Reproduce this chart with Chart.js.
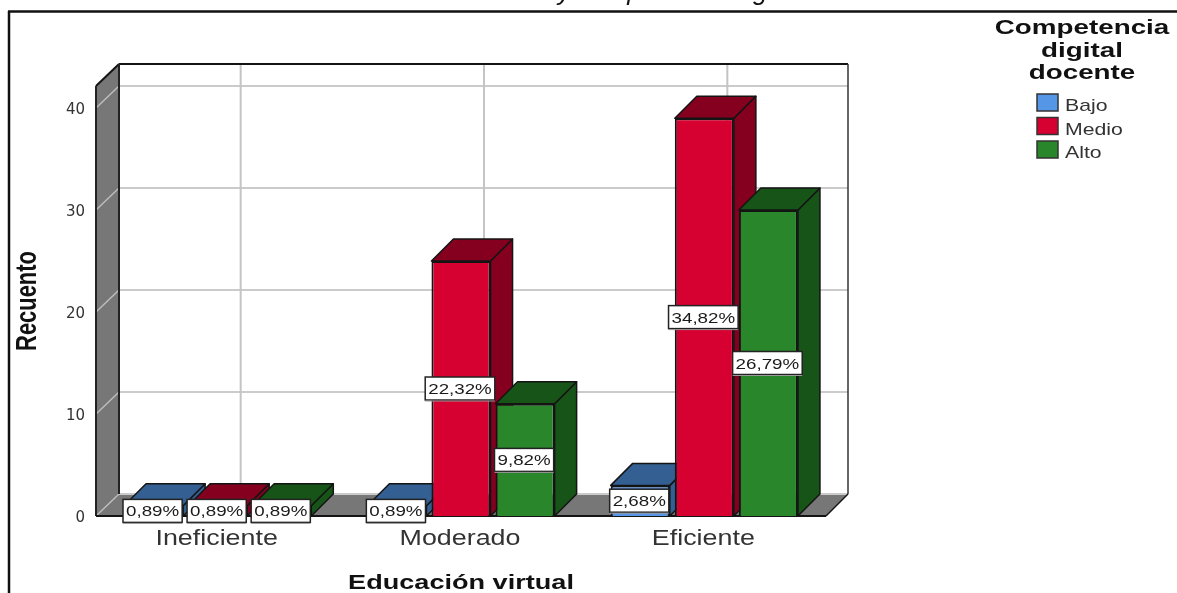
<!DOCTYPE html>
<html>
<head>
<meta charset="utf-8">
<title>Educación virtual</title>
<style>
  html, body { margin: 0; padding: 0; background: #fff; }
  #wrap { width: 1177px; height: 593px; overflow: hidden; }
</style>
<script src="https://cdn.jsdelivr.net/npm/chart.js@4/dist/chart.umd.js"></script>
</head>
<body>
<div id="wrap"><canvas id="grafico" width="1177" height="593"></canvas></div>
<script>
const categorias = ["Ineficiente", "Moderado", "Eficiente"];
const niveles = ["Bajo", "Medio", "Alto"];
const bajo = [1, 1, 3];
const medio = [1, 25, 39];
const alto = [1, 11, 30];
const totalCasos = 112;
const titulo = "Educación virtual y competencia digital docente";
const tituloLeyenda = ["Competencia", "digital", "docente"];

const coloresFrente = ["#5596e6", "#d60031", "#2a862a"];
const coloresOscuros = ["#345f92", "#85001f", "#175417"];
const linea = "#141414";
const fondo3d = 22; // profundidad del efecto 3D en px

// texto estirado en horizontal, con ancla en el centro
function textoAncho(ctx, txt, x, y, fuente, escala, color) {
  ctx.save();
  ctx.font = fuente;
  ctx.fillStyle = color || "#1a1a1a";
  ctx.textAlign = "center";
  ctx.textBaseline = "alphabetic";
  ctx.translate(x, y);
  ctx.scale(escala, 1);
  ctx.fillText(txt, 0, 0);
  ctx.restore();
}

function poligono(ctx, puntos, relleno, borde, grosor) {
  ctx.beginPath();
  puntos.forEach((p, i) => i ? ctx.lineTo(p[0], p[1]) : ctx.moveTo(p[0], p[1]));
  ctx.closePath();
  if (relleno) { ctx.fillStyle = relleno; ctx.fill(); }
  if (borde) { ctx.strokeStyle = borde; ctx.lineWidth = grosor || 1.5; ctx.stroke(); }
}

function segmento(ctx, x1, y1, x2, y2, color, grosor) {
  ctx.beginPath();
  ctx.moveTo(x1, y1);
  ctx.lineTo(x2, y2);
  ctx.strokeStyle = color;
  ctx.lineWidth = grosor;
  ctx.stroke();
}

// caja del gráfico: paredes, suelo y rejilla
const cajaPlugin = {
  id: "caja",
  beforeDatasetsDraw(chart) {
    const { ctx, chartArea: a, scales } = chart;
    const d = fondo3d;
    const fondoIzq = a.left + d + 1;
    ctx.save();
    poligono(ctx, [[fondoIzq, a.top - d], [a.right + d, a.top - d], [a.right + d, a.bottom - d], [fondoIzq, a.bottom - d]], "#fff");
    poligono(ctx, [[a.left, a.top], [fondoIzq, a.top - d], [fondoIzq, a.bottom - d], [a.left, a.bottom]], "#777");
    poligono(ctx, [[a.left, a.bottom], [fondoIzq, a.bottom - d], [a.right + d, a.bottom - d], [a.right, a.bottom]], "#777");

    scales.y.ticks.forEach(t => {
      const y = scales.y.getPixelForValue(t.value);
      segmento(ctx, a.left, y, fondoIzq, y - d, "#bdbdbd", 1.5);
      segmento(ctx, fondoIzq, y - d, a.right + d, y - d, "#cbcbcb", 2);
    });
    categorias.forEach((c, i) => {
      const x = scales.x.getPixelForTick(i) + d + 1;
      segmento(ctx, x, a.top - d, x, a.bottom - d, "#c4c4c4", 2);
    });

    segmento(ctx, a.left, a.top, fondoIzq, a.top - d, linea, 2);
    segmento(ctx, fondoIzq, a.top - d, a.right + d, a.top - d, linea, 2);
    segmento(ctx, a.right + d, a.top - d, a.right + d, a.bottom - d, "#333", 1.5);
    segmento(ctx, a.right + d, a.bottom - d, a.right, a.bottom, linea, 1.5);
    segmento(ctx, a.left, a.top, a.left, a.bottom, "#222", 2);
    segmento(ctx, fondoIzq, a.top - d, fondoIzq, a.bottom - d, "#222", 2);
    segmento(ctx, a.left, a.bottom, a.right, a.bottom, linea, 2);

    // barras de izquierda a derecha: lateral, tapa y cara frontal
    ctx.lineJoin = "round";
    chart.data.datasets.forEach((ds, i) => {
      const oscuro = coloresOscuros[i];
      chart.getDatasetMeta(i).data.forEach(b => {
        const x0 = b.x - b.width / 2;
        const x1 = b.x + b.width / 2;
        poligono(ctx, [[x1, b.y], [x1 + d, b.y - d], [x1 + d, b.base - d], [x1, b.base]], oscuro, linea, 1.5);
        poligono(ctx, [[x0, b.y], [x1, b.y], [x1 + d, b.y - d], [x0 + d, b.y - d]], oscuro, linea, 1.5);
        b.draw(ctx);
      });
    });
    ctx.restore();
  },
  // las barras ya se pintaron en el orden correcto
  beforeDatasetDraw() {
    return false;
  },
  // etiquetas de porcentaje en el centro de cada barra
  afterDatasetsDraw(chart) {
    const { ctx } = chart;
    ctx.save();
    chart.data.datasets.forEach((ds, i) => {
      chart.getDatasetMeta(i).data.forEach((b, j) => {
        const txt = (ds.data[j] / totalCasos * 100).toFixed(2).replace(".", ",") + "%";
        ctx.font = "15px 'Liberation Sans'";
        const ancho = ctx.measureText(txt).width * 1.25 + 6;
        const cx = b.x - 1;
        const cy = (b.y + b.base) / 2;
        const alto = 23;
        ctx.fillStyle = "#fff";
        ctx.fillRect(cx - ancho / 2, cy - alto / 2, ancho, alto);
        ctx.strokeStyle = "#222";
        ctx.lineWidth = 1.5;
        ctx.strokeRect(cx - ancho / 2, cy - alto / 2, ancho, alto);
        segmento(ctx, cx - ancho / 2, cy + alto / 2 + 1, cx + ancho / 2, cy + alto / 2 + 1, "#999", 1);
        textoAncho(ctx, txt, cx, cy + 5.5, "15px 'Liberation Sans'", 1.25);
      });
    });
    ctx.restore();
  },
  afterDraw(chart) {
    const { ctx, scales } = chart;
    ctx.save();

    // marco superior e izquierdo
    segmento(ctx, 8, 11.5, 1177, 11.5, "#111", 2.5);
    segmento(ctx, 9, 11, 9, 593, "#111", 2.5);

    // titulo general, cortado por el borde superior
    ctx.font = "italic 26px 'Liberation Sans'";
    ctx.fillStyle = "#111";
    ctx.textAlign = "left";
    ctx.textBaseline = "alphabetic";
    ctx.fillText(titulo, 558 - ctx.measureText("Educación virtual ").width, 0);

    // etiquetas de categoría
    categorias.forEach((c, i) => {
      textoAncho(ctx, c, scales.x.getPixelForTick(i) - 1, 545, "22px 'Liberation Sans'", 1.22, "#333");
    });

    // titulos de los ejes
    textoAncho(ctx, "Educación virtual", 461, 589, "bold 21px 'Liberation Sans'", 1.29, "#111");
    ctx.save();
    ctx.translate(36, 301);
    ctx.rotate(-Math.PI / 2);
    textoAncho(ctx, "Recuento", 0, 0, "bold 30px 'Liberation Sans'", 0.73, "#111");
    ctx.restore();

    // leyenda
    tituloLeyenda.forEach((t, i) => {
      textoAncho(ctx, t, 1082, 34 + i * 22.5, "bold 20px 'Liberation Sans'", 1.39, "#111");
    });
    niveles.forEach((n, i) => {
      const y = 94 + i * 23.5;
      ctx.fillStyle = coloresFrente[i];
      ctx.fillRect(1037, y, 21, 17);
      ctx.strokeStyle = "#333";
      ctx.lineWidth = 1.5;
      ctx.strokeRect(1037, y, 21, 17);
      ctx.font = "17px 'Liberation Sans'";
      const w = ctx.measureText(n).width * 1.25;
      textoAncho(ctx, n, 1065 + w / 2, y + 17, "17px 'Liberation Sans'", 1.25, "#333");
    });
    ctx.restore();
  }
};

const datasets = niveles.map((n, i) => ({
  label: n,
  data: [bajo, medio, alto][i],
  backgroundColor: coloresFrente[i],
  borderColor: linea,
  borderWidth: 2,
  categoryPercentage: 0.79,
  barPercentage: 0.922
}));

new Chart(document.getElementById("grafico"), {
  type: "bar",
  data: { labels: categorias, datasets },
  plugins: [cajaPlugin],
  options: {
    responsive: false,
    animation: false,
    events: [],
    layout: { padding: { left: 0, top: 86, right: 351, bottom: 0 } },
    plugins: { legend: { display: false }, tooltip: { enabled: false } },
    scales: {
      x: {
        grid: { display: false },
        border: { display: false },
        ticks: { display: false },
        afterFit: s => { s.height = 77; }
      },
      y: {
        min: 0,
        max: 42.16,
        grid: { display: false, drawTicks: false },
        border: { display: false },
        ticks: {
          stepSize: 10,
          includeBounds: false,
          padding: 11,
          labelOffset: 2,
          color: "#333",
          font: { family: "'DejaVu Sans'", size: 15 }
        },
        afterFit: s => { s.width = 96; }
      }
    }
  }
});
</script>
</body>
</html>
